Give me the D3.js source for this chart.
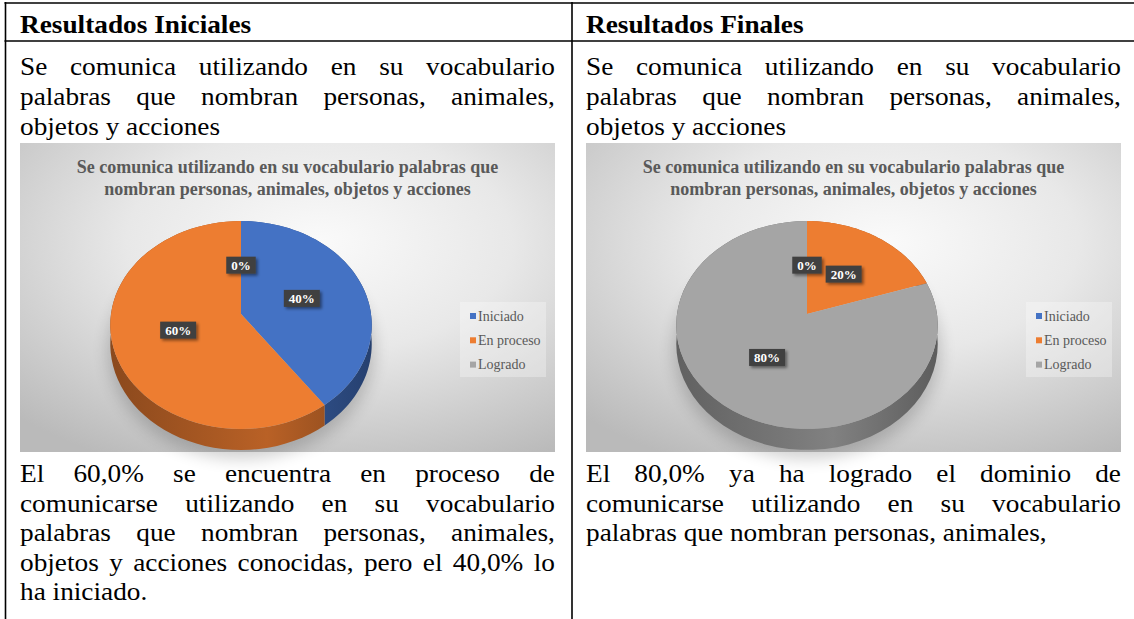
<!DOCTYPE html>
<html><head><meta charset="utf-8">
<script src="https://cdn.jsdelivr.net/npm/d3@7"></script>
<style>html,body{margin:0;padding:0;background:#fff;} svg{display:block;}</style>
</head><body>
<svg id="page" width="1134" height="619"></svg>
<script>
// ---------- data ----------
const categories = ["Iniciado", "En proceso", "Logrado"];
const valuesInicial = [40, 60, 0];
const valuesFinal = [0, 20, 80];
const seriesColors = ["#4472C4", "#ED7D31", "#A5A5A5"];
const chartTitleLines = ["Se comunica utilizando en su vocabulario palabras que",
                         "nombran personas, animales, objetos y acciones"];
const headers = ["Resultados Iniciales", "Resultados Finales"];
const introLines = ["Se comunica utilizando en su vocabulario",
                    "palabras que nombran personas, animales,",
                    "objetos y acciones"];
const leftNoteLines = ["El 60,0% se encuentra en proceso de",
                       "comunicarse utilizando en su vocabulario",
                       "palabras que nombran personas, animales,",
                       "objetos y acciones conocidas, pero el 40,0% lo",
                       "ha iniciado."];
const rightNoteLines = ["El 80,0% ya ha logrado el dominio de",
                        "comunicarse utilizando en su vocabulario",
                        "palabras que nombran personas, animales,"];

// ---------- layout ----------
const W = 1134, H = 619;
const colX = [20, 586];
const textW = 535;
const FONT = "'Liberation Serif','Times New Roman',serif";
const bodySize = 26, sx = 1.05;
const svg = d3.select("#page");
const defs = svg.append("defs");

// table borders
const lines = svg.append("g").attr("stroke", "#000").attr("stroke-width", 1.6);
lines.append("line").attr("x1", 4.5).attr("x2", W).attr("y1", 3).attr("y2", 3);
lines.append("line").attr("x1", 4.5).attr("x2", W).attr("y1", 41).attr("y2", 41);
lines.append("line").attr("x1", 5.5).attr("x2", 5.5).attr("y1", 2).attr("y2", H);
lines.append("line").attr("x1", 572).attr("x2", 572).attr("y1", 2).attr("y2", H);

const tmp = svg.append("text").style("font-family", FONT).attr("opacity", 0);

function drawLines(g, arr, x, baselines, size, weight) {
  arr.forEach((line, i) => {
    const t = g.append("text")
      .attr("transform", `translate(${x},${baselines[i]}) scale(${sx},1)`)
      .style("font-family", FONT).style("font-size", size + "px")
      .style("font-weight", weight).attr("fill", "#000");
    const justify = i < arr.length - 1;
    if (!justify) { t.text(line); return; }
    const words = line.split(" ");
    tmp.style("font-size", size + "px").style("font-weight", weight);
    const widths = words.map(w => { tmp.text(w); return tmp.node().getComputedTextLength(); });
    const gap = (textW / sx - d3.sum(widths)) / (words.length - 1);
    let cx = 0;
    words.forEach((w, j) => { t.append("tspan").attr("x", cx).attr("y", 0).text(w); cx += widths[j] + gap; });
  });
}

// headers
headers.forEach((h, i) => {
  svg.append("text").attr("transform", `translate(${colX[i]},33) scale(${sx},1)`)
    .style("font-family", FONT).style("font-size", "26px").style("font-weight", "bold").text(h);
});
[0, 1].forEach(i => drawLines(svg.append("g"), introLines, colX[i], [75, 105, 135], bodySize, "normal"));
drawLines(svg.append("g"), leftNoteLines, colX[0], [482, 511.5, 541, 570.5, 600], bodySize, "normal");
drawLines(svg.append("g"), rightNoteLines, colX[1], [482, 511.5, 541], bodySize, "normal");

// ---------- charts ----------
const chartY = 143, chartW = 535, chartH = 309;
const bg = defs.append("radialGradient").attr("id", "bg").attr("cx", "0.56").attr("cy", "0.32").attr("r", "0.8");
bg.append("stop").attr("offset", 0).attr("stop-color", "#fafafa");
bg.append("stop").attr("offset", 0.45).attr("stop-color", "#e8e8e8");
bg.append("stop").attr("offset", 1).attr("stop-color", "#bababa");
const sh = defs.append("filter").attr("id", "lblShadow").attr("x", "-30%").attr("y", "-30%").attr("width", "170%").attr("height", "180%");
sh.append("feDropShadow").attr("dx", 2).attr("dy", 2).attr("stdDeviation", 1.5).attr("flood-opacity", 0.45);
const blur = defs.append("filter").attr("id", "pieBlur").attr("x", "-20%").attr("y", "-20%").attr("width", "140%").attr("height", "140%");
blur.append("feGaussianBlur").attr("stdDeviation", 8);

const color = d3.scaleOrdinal().domain(categories).range(seriesColors);

function drawChart(values, x0, idx) {
  const g = svg.append("g").attr("transform", `translate(${x0},${chartY})`);
  g.append("rect").attr("width", chartW).attr("height", chartH).attr("fill", "url(#bg)");
  chartTitleLines.forEach((t, i) => {
    g.append("text").attr("x", chartW / 2).attr("y", 30 + i * 22).attr("text-anchor", "middle")
      .style("font-family", FONT).style("font-size", "18px").style("font-weight", "bold")
      .attr("fill", "#595959").text(t);
  });
  // pie projection
  const cx = 221, cy = 171, PW = 130, PV = 102.8, a = 0.1058, PH = 18.8;
  const proj = (th, r, h) => {
    const Z = r * Math.cos(th), X = r * Math.sin(th), den = 1 + a * Z;
    return [cx + PW * X / den, cy - PV * Z / den + PH * h / den];
  };
  const data = categories.map((c, i) => ({ c, v: values[i] }));
  const arcs = d3.pie().sort(null).value(d => d.v).startAngle(0).endAngle(2 * Math.PI)(data);
  const line = d3.line();
  const arcPts = (s, e, h) => d3.range(0, 61).map(k => proj(s + (e - s) * k / 60, 1, h));

  // soft shadow
  const shPts = d3.range(0, 73).map(k => proj(k / 72 * 2 * Math.PI, 1.02, 1.3));
  g.append("path").attr("d", line(shPts) + "Z").attr("fill", "#000").attr("opacity", 0.18)
    .attr("filter", "url(#pieBlur)");

  arcs.filter(d => d.endAngle - d.startAngle > 1e-6).forEach((d, i) => {
    const base = d3.color(color(d.data.c));
    const gid = `side${idx}_${d.index}`;
    const lg = defs.append("linearGradient").attr("id", gid).attr("gradientUnits", "userSpaceOnUse")
      .attr("x1", cx - PW).attr("x2", cx + PW).attr("y1", 0).attr("y2", 0);
    lg.append("stop").attr("offset", 0).attr("stop-color", base.darker(1.5));
    lg.append("stop").attr("offset", 0.6).attr("stop-color", base.darker(0.7));
    lg.append("stop").attr("offset", 1).attr("stop-color", base.darker(1.6));
    const pts = arcPts(d.startAngle, d.endAngle, 0).concat(arcPts(d.startAngle, d.endAngle, 1).reverse());
    g.append("path").attr("d", line(pts) + "Z").attr("fill", `url(#${gid})`);
  });
  arcs.filter(d => d.endAngle - d.startAngle > 1e-6).forEach(d => {
    const pts = [proj(0, 0, 0)].concat(arcPts(d.startAngle, d.endAngle, 0));
    g.append("path").attr("d", line(pts) + "Z").attr("fill", color(d.data.c));
  });
  // labels
  arcs.forEach(d => {
    const mid = (d.startAngle + d.endAngle) / 2;
    const [lx, ly] = proj(mid, 0.5, 0);
    const lab = g.append("g").attr("transform", `translate(${lx},${ly})`);
    const txt = d.data.v + "%";
    tmp.style("font-size", "13px").style("font-weight", "bold").text(txt);
    const tw = tmp.node().getComputedTextLength() + 10;
    lab.append("rect").attr("x", -tw / 2).attr("y", -8.5).attr("width", tw).attr("height", 17)
      .attr("fill", "#404040").attr("filter", "url(#lblShadow)");
    lab.append("text").attr("text-anchor", "middle").attr("y", 4.5)
      .style("font-family", FONT).style("font-size", "13px").style("font-weight", "bold")
      .attr("fill", "#fff").text(txt);
  });
  // legend
  const lgG = g.append("g").attr("transform", `translate(440,159)`);
  lgG.append("rect").attr("width", 86).attr("height", 75).attr("fill", "#fff").attr("opacity", 0.3);
  categories.forEach((c, i) => {
    const yy = 14 + i * 24.3;
    lgG.append("rect").attr("x", 10).attr("y", yy - 3).attr("width", 6).attr("height", 6).attr("fill", color(c));
    lgG.append("text").attr("x", 18).attr("y", yy + 4.5)
      .style("font-family", FONT).style("font-size", "14px").attr("fill", "#595959").text(c);
  });
}
drawChart(valuesInicial, colX[0], 0);
drawChart(valuesFinal, colX[1], 1);
tmp.remove();
</script>
</body></html>
